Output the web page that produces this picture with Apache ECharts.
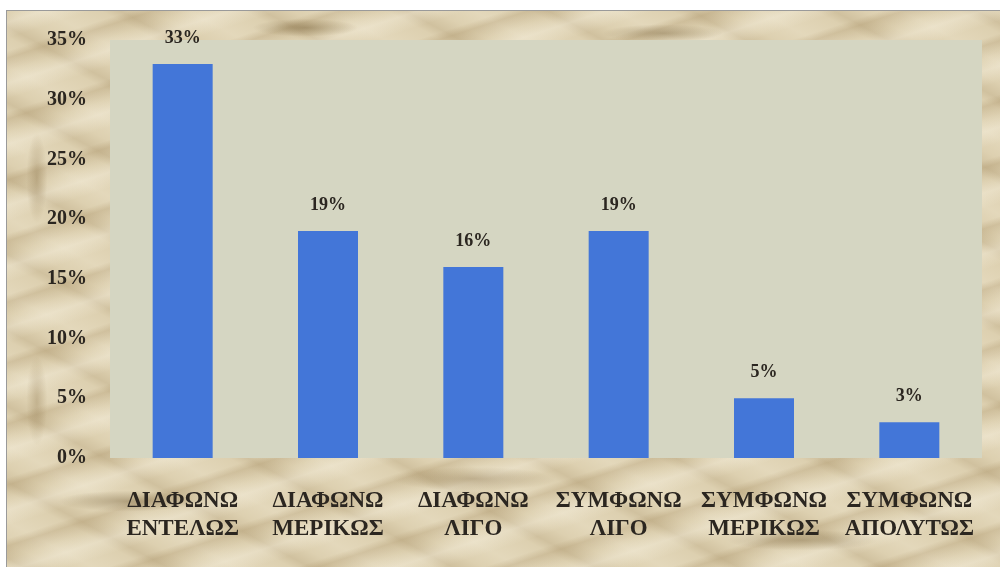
<!DOCTYPE html>
<html>
<head>
<meta charset="utf-8">
<script src="https://cdn.jsdelivr.net/npm/echarts@6/dist/echarts.min.js"></script>
<style>
  html, body { margin: 0; padding: 0; width: 1000px; height: 567px; overflow: hidden; background: #ffffff; }
  /* stone-like backdrop behind the chart */
  #frame {
    position: absolute; left: 6px; top: 10px; width: 994px; height: 557px;
    border-top: 1px solid #9a9a9a; border-left: 1px solid #9a9a9a;
    background-color: #ddd0b0;
    background-image:
      radial-gradient(ellipse 90px 14px at 12% 88%, rgba(120,98,58,0.45), rgba(120,98,58,0) 75%),
      radial-gradient(ellipse 110px 16px at 47% 84%, rgba(130,105,62,0.40), rgba(130,105,62,0) 75%),
      radial-gradient(ellipse 100px 14px at 80% 95%, rgba(120,98,58,0.40), rgba(120,98,58,0) 75%),
      radial-gradient(ellipse 70px 12px at 30% 3%, rgba(120,98,58,0.45), rgba(120,98,58,0) 75%),
      radial-gradient(ellipse 80px 12px at 66% 4%, rgba(120,98,58,0.40), rgba(120,98,58,0) 75%),
      radial-gradient(ellipse 14px 60px at 3% 30%, rgba(130,105,62,0.35), rgba(130,105,62,0) 75%),
      radial-gradient(ellipse 14px 60px at 3% 70%, rgba(130,105,62,0.30), rgba(130,105,62,0) 75%),
      repeating-linear-gradient(162deg, rgba(250,245,230,0) 0px, rgba(250,245,230,0.35) 11px, rgba(250,245,230,0) 26px, rgba(150,122,74,0) 38px, rgba(150,122,74,0.22) 45px, rgba(150,122,74,0) 58px),
      repeating-linear-gradient(28deg, rgba(140,114,68,0) 0px, rgba(140,114,68,0.16) 9px, rgba(140,114,68,0) 23px, rgba(250,244,226,0.22) 41px, rgba(250,244,226,0) 67px);
  }
  #chart { position: absolute; left: 0; top: 0; width: 1000px; height: 567px; }
</style>
</head>
<body>
<div id="frame"></div>
<div id="chart"></div>
<script>
// Survey answers and their share of respondents (%)
const categories = [
  'ΔΙΑΦΩΝΩ\nΕΝΤΕΛΩΣ',
  'ΔΙΑΦΩΝΩ\nΜΕΡΙΚΩΣ',
  'ΔΙΑΦΩΝΩ\nΛΙΓΟ',
  'ΣΥΜΦΩΝΩ\nΛΙΓΟ',
  'ΣΥΜΦΩΝΩ\nΜΕΡΙΚΩΣ',
  'ΣΥΜΦΩΝΩ\nΑΠΟΛΥΤΩΣ'
];
const shares = [33, 19, 16, 19, 5, 3];
const yTicks = { min: 0, max: 35, step: 5 };

const textColor = '#2b2620';
const serif = '"Liberation Serif", "DejaVu Serif", serif';

const chart = echarts.init(document.getElementById('chart'), null, { renderer: 'canvas' });
chart.setOption({
  backgroundColor: 'transparent',
  animation: false,
  grid: {
    left: 110, right: 18, top: 40, bottom: 109,
    show: true, backgroundColor: '#d5d6c2', borderWidth: 0
  },
  xAxis: {
    type: 'category',
    data: categories,
    axisLine: { show: false },
    axisTick: { show: false },
    axisLabel: {
      color: textColor, fontFamily: serif, fontWeight: 'bold',
      fontSize: 23, lineHeight: 28, margin: 29, interval: 0
    }
  },
  yAxis: {
    type: 'value',
    min: yTicks.min, max: yTicks.max, interval: yTicks.step,
    axisLine: { show: false },
    axisTick: { show: false },
    splitLine: { show: false },
    axisLabel: {
      formatter: '{value}%',
      color: textColor, fontFamily: serif, fontWeight: 'bold',
      fontSize: 20, margin: 23
    }
  },
  series: [{
    type: 'bar',
    data: shares,
    barWidth: 60,
    itemStyle: { color: '#4376d8' },
    label: {
      show: true, position: 'top', distance: 17,
      formatter: '{c}%',
      color: textColor, fontFamily: serif, fontWeight: 'bold', fontSize: 18
    }
  }]
});
</script>
</body>
</html>
